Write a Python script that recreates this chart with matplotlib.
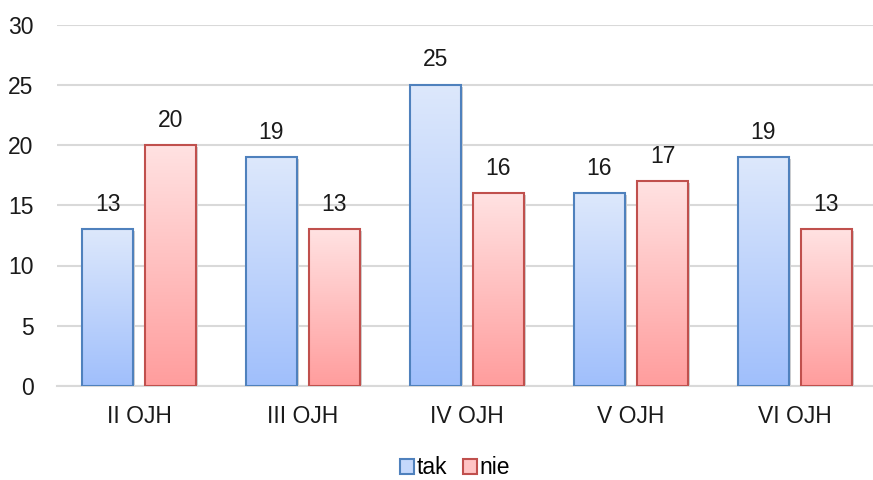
import numpy as np
import matplotlib
matplotlib.use('Agg')
import matplotlib.pyplot as plt
from matplotlib.patches import Patch

plt.rcParams['font.family'] = ['Liberation Sans', 'DejaVu Sans']

categories = ['II OJH', 'III OJH', 'IV OJH', 'V OJH', 'VI OJH']
tak = [13, 19, 25, 16, 19]
nie = [20, 13, 16, 17, 13]
yticks = [0, 5, 10, 15, 20, 25, 30]

fig = plt.figure(figsize=(8.73, 4.8), dpi=100)
ax = fig.add_axes([57 / 873, 94 / 480, 816 / 873, 361.5 / 480])

x = np.arange(len(categories))
w = 0.311
off = 0.192
fs = 16.5

series = [
    (tak, -off, '#4f81bd', '#dde8fc', '#a0bffb', 'tak'),
    (nie, off, '#c0504d', '#ffe2e2', '#ff9d9d', 'nie'),
]

# gradient image, light on top, darker at bottom
grad = np.linspace(1, 0, 256).reshape(-1, 1)

for vals, dx, edge, top, bottom, name in series:
    cmap = matplotlib.colors.LinearSegmentedColormap.from_list(name, [bottom, top])
    # soft shadow
    ax.bar(x + dx + 0.012, vals, w, bottom=-0.15, color='#d0d0d0', zorder=2, linewidth=0)
    bars = ax.bar(x + dx, vals, w, color='none', edgecolor=edge, linewidth=1.5, zorder=4)
    for b in bars:
        x0, y0 = b.get_x(), b.get_y()
        im = ax.imshow(grad, cmap=cmap, aspect='auto', zorder=3,
                       extent=[x0, x0 + b.get_width(), y0, y0 + b.get_height()])
        im.set_clip_path(b)
    for xi, v in zip(x + dx, vals):
        ax.text(xi, v + 1.1, str(v), ha='center', va='bottom', fontsize=fs, color='#1a1a1a')

ax.set_xlim(-0.5, 4.476)
ax.set_ylim(0, 30)
ax.set_yticks(yticks)
ax.set_xticks(x)
ax.set_xticklabels(categories)
ax.tick_params(length=0, labelsize=fs, colors='#1a1a1a')
ax.tick_params(axis='y', pad=17)
ax.tick_params(axis='x', pad=14)
ax.grid(axis='y', color='#d9d9d9', linewidth=1.5, zorder=0)
ax.set_axisbelow(True)
for s in ['top', 'right', 'left']:
    ax.spines[s].set_visible(False)
ax.spines['bottom'].set_color('#d9d9d9')
ax.spines['bottom'].set_linewidth(1.5)

handles = [Patch(facecolor='#c5d8fc', edgecolor='#4f81bd', linewidth=1.5, label='tak'),
           Patch(facecolor='#ffc4c4', edgecolor='#c0504d', linewidth=1.5, label='nie')]
fig.legend(handles=handles, loc='center', bbox_to_anchor=(0.521, 0.025), ncol=2,
           frameon=False, fontsize=fs, handlelength=0.6, handleheight=0.6,
           handletextpad=0.12, columnspacing=0.7)

fig.savefig('out.png', dpi=100)
